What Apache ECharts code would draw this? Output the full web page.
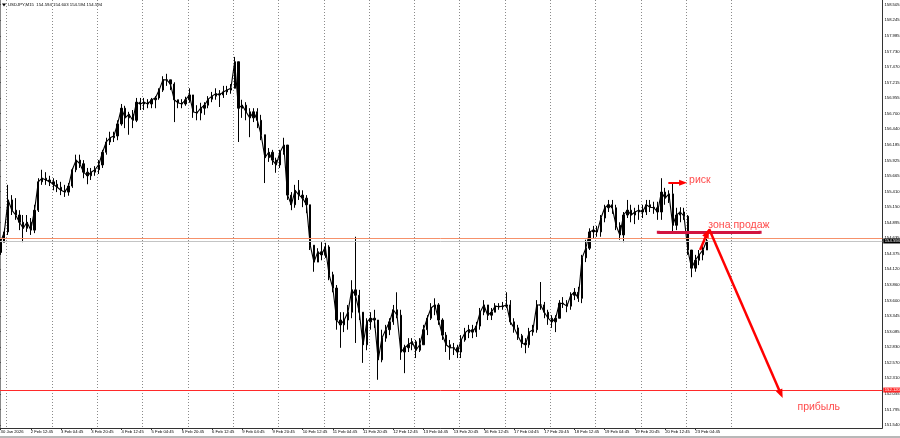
<!DOCTYPE html>
<html>
<head>
<meta charset="utf-8">
<title>USDJPY,M15</title>
<script src="https://cdn.jsdelivr.net/npm/echarts@6/dist/echarts.min.js"></script>
<style>
  html, body { margin: 0; padding: 0; background: #fff; }
  #chart { width: 900px; height: 438px; }
</style>
</head>
<body>
<div id="chart"></div>
<script>
// USDJPY M15, shown here as 2-hour bars, 30 Jan 20:45 .. 23 Feb
const barCount = 234 // includes empty space on the right (chart shift)
const categories = Array.from({ length: barCount }, (_, i) => String(i))

// trading days, one dotted separator at the start of each
const tradingDays = [
  '30 Jan', '2 Feb', '3 Feb', '4 Feb', '5 Feb', '6 Feb', '9 Feb', '10 Feb', '11 Feb',
  '12 Feb', '13 Feb', '16 Feb', '17 Feb', '18 Feb', '19 Feb', '20 Feb', '23 Feb', '24 Feb',
]

const timeLabels = [
  '30 Jan 2026', '2 Feb 12:45', '3 Feb 04:45', '3 Feb 20:45', '4 Feb 12:45', '5 Feb 04:45',
  '5 Feb 20:45', '6 Feb 12:45', '9 Feb 04:45', '9 Feb 20:45', '10 Feb 12:45', '11 Feb 04:45',
  '11 Feb 20:45', '12 Feb 12:45', '13 Feb 04:45', '13 Feb 20:45', '16 Feb 12:45', '17 Feb 04:45',
  '17 Feb 20:45', '18 Feb 12:45', '19 Feb 04:45', '19 Feb 20:45', '20 Feb 12:45', '23 Feb 04:45',
]

const priceLabels = [
  '151.540', '151.795', '152.055', '152.310', '152.570', '152.830', '153.085', '153.345',
  '153.600', '153.860', '154.120', '154.375', '154.635', '154.895', '155.150', '155.410',
  '155.665', '155.925', '156.185', '156.440', '156.700', '156.955', '157.215', '157.470',
  '157.730', '157.985', '158.245', '158.505',
]

const firstOpen = 154.4
const closes = [
  154.57, 154.74, 155.27, 155.10, 155.02, 154.90, 154.80, 154.90, 154.77, 155.10,
  155.57, 155.63, 155.60, 155.57, 155.53, 155.48, 155.43, 155.40, 155.50, 155.77,
  155.93, 155.87, 155.73, 155.67, 155.73, 155.77, 155.85, 156.06, 156.23, 156.30,
  156.33, 156.53, 156.79, 156.63, 156.69, 156.59, 156.89, 156.86, 156.89, 156.86,
  156.93, 156.96, 157.09, 157.26, 157.26, 157.19, 156.93, 156.88, 156.86, 156.93,
  157.01, 156.73, 156.71, 156.79, 156.84, 156.94, 156.99, 157.03, 157.01, 157.06,
  157.09, 157.12, 157.56, 156.79, 156.84, 156.73, 156.63, 156.73, 156.59, 156.35,
  155.97, 156.06, 155.93, 155.85, 156.06, 156.18, 155.35, 155.19, 155.43, 155.35,
  155.30, 155.19, 154.52, 154.24, 154.41, 154.36, 154.49, 154.03, 153.81, 153.28,
  153.20, 153.28, 153.41, 153.78, 153.69, 153.41, 152.87, 153.25, 153.31, 153.28,
  152.62, 152.98, 153.12, 153.25, 153.45, 153.36, 152.75, 152.82, 152.87, 152.92,
  152.78, 152.87, 153.12, 153.31, 153.48, 153.53, 153.28, 153.03, 152.87, 152.82,
  152.82, 152.75, 152.95, 153.07, 153.12, 153.08, 153.18, 153.41, 153.53, 153.36,
  153.41, 153.51, 153.50, 153.51, 153.53, 153.25, 153.15, 153.02, 152.90, 152.87,
  153.08, 153.12, 153.53, 153.53, 153.41, 153.31, 153.25, 153.31, 153.56, 153.55,
  153.51, 153.69, 153.74, 153.64, 154.31, 154.47, 154.74, 154.77, 154.74, 154.97,
  155.14, 155.19, 155.14, 154.85, 154.69, 155.02, 155.10, 155.02, 155.07, 155.10,
  155.07, 155.19, 155.15, 155.14, 155.07, 155.40, 155.30, 155.37, 154.85, 155.02,
  155.07, 155.00, 154.44, 154.14, 154.27, 154.36, 154.44, 154.594,
]
const highs = [
  154.64, 154.80, 155.52, 155.35, 155.30, 155.10, 155.02, 155.02, 154.97, 155.19,
  155.63, 155.77, 155.73, 155.67, 155.63, 155.60, 155.57, 155.52, 155.55, 155.80,
  156.02, 156.02, 155.93, 155.80, 155.80, 155.83, 155.93, 156.10, 156.30, 156.40,
  156.40, 156.59, 156.86, 156.83, 156.73, 156.76, 156.96, 156.96, 156.96, 156.94,
  156.96, 156.99, 157.12, 157.32, 157.36, 157.26, 157.22, 156.93, 156.94, 156.98,
  157.12, 156.93, 156.84, 156.88, 156.89, 156.99, 157.06, 157.12, 157.09, 157.16,
  157.16, 157.19, 157.64, 157.56, 156.93, 156.89, 156.79, 156.79, 156.79, 156.68,
  156.30, 156.13, 156.10, 155.97, 156.10, 156.30, 156.18, 155.40, 155.52, 155.60,
  155.43, 155.35, 155.19, 154.47, 154.47, 154.57, 154.56, 154.52, 154.08, 153.86,
  153.41, 153.41, 153.53, 153.94, 154.66, 153.78, 153.36, 153.31, 153.41, 153.45,
  153.28, 153.12, 153.20, 153.31, 153.53, 153.74, 153.45, 152.87, 152.98, 152.98,
  152.95, 152.98, 153.20, 153.36, 153.56, 153.64, 153.56, 153.31, 153.08, 152.95,
  152.90, 152.87, 153.03, 153.15, 153.20, 153.20, 153.25, 153.48, 153.61, 153.53,
  153.48, 153.56, 153.56, 153.58, 153.74, 153.61, 153.31, 153.20, 153.05, 152.98,
  153.15, 153.20, 153.61, 153.91, 153.58, 153.45, 153.36, 153.36, 153.61, 153.66,
  153.61, 153.74, 153.81, 153.83, 154.36, 154.61, 154.80, 154.84, 154.84, 155.02,
  155.19, 155.27, 155.27, 155.19, 154.90, 155.07, 155.27, 155.19, 155.14, 155.19,
  155.19, 155.27, 155.27, 155.24, 155.24, 155.63, 155.47, 155.43, 155.55, 155.14,
  155.15, 155.14, 155.02, 154.44, 154.36, 154.44, 154.52, 154.66,
]
const lows = [
  154.36, 154.57, 154.69, 155.02, 154.94, 154.77, 154.57, 154.74, 154.69, 154.72,
  155.07, 155.52, 155.52, 155.50, 155.43, 155.40, 155.35, 155.32, 155.34, 155.47,
  155.73, 155.80, 155.63, 155.53, 155.60, 155.67, 155.70, 155.80, 156.02, 156.18,
  156.23, 156.26, 156.50, 156.46, 156.35, 156.46, 156.56, 156.76, 156.76, 156.79,
  156.79, 156.79, 156.93, 157.06, 157.16, 157.09, 156.56, 156.79, 156.79, 156.83,
  156.88, 156.63, 156.59, 156.59, 156.68, 156.79, 156.89, 156.93, 156.81, 156.96,
  157.01, 157.03, 157.12, 156.23, 156.63, 156.59, 156.31, 156.56, 156.46, 156.26,
  155.55, 155.90, 155.85, 155.72, 155.80, 156.02, 155.27, 155.10, 155.14, 155.27,
  155.15, 155.05, 154.44, 154.08, 154.24, 154.27, 154.31, 153.94, 153.74, 153.12,
  152.82, 153.08, 153.12, 153.31, 152.90, 153.28, 152.57, 152.78, 153.12, 153.15,
  152.29, 152.58, 152.92, 153.03, 153.20, 153.31, 152.62, 152.40, 152.75, 152.78,
  152.65, 152.75, 152.87, 153.03, 153.28, 153.36, 153.20, 152.95, 152.75, 152.62,
  152.70, 152.65, 152.65, 152.92, 152.98, 152.98, 153.00, 153.12, 153.36, 153.28,
  153.28, 153.41, 153.45, 153.45, 153.48, 153.20, 153.07, 152.95, 152.82, 152.73,
  152.82, 153.02, 153.07, 153.45, 153.31, 153.20, 153.15, 153.08, 153.31, 153.48,
  153.41, 153.45, 153.61, 153.58, 153.56, 154.24, 154.44, 154.64, 154.66, 154.66,
  154.90, 155.07, 155.04, 154.77, 154.61, 154.57, 154.97, 154.90, 154.87, 154.94,
  154.97, 155.02, 155.07, 155.04, 154.94, 154.94, 155.19, 155.22, 154.74, 154.77,
  154.90, 154.94, 154.36, 153.99, 154.08, 154.19, 154.27, 154.47,
]

// horizontal levels
const bidPrice = 154.594
const userLine = 154.628
const targetLine = 152.12

// drawings, x in trading hours from 2 Feb 00:00, y in price
const riskArrow = [[350.4, 155.556], [358.2, 155.556]]
const sellZone = [[345.1, 154.734], [399.0, 154.734]]
const entryArrow = [[367.2, 154.44], [371.0, 154.722]]
const profitArrow = [[372.0, 154.789], [410.0, 152.056]]
const notes = [
  { name: 'риск', value: [361.4, 155.6] },
  { name: 'зона продаж', value: [371.6, 154.855] },
  { name: 'прибыль', value: [418.8, 151.84] },
]

const FONT = 'Liberation Sans'
const priceMin = 151.491
const priceMax = 158.583

const candles = closes.map((c, i) => {
  const o = i === 0 ? firstOpen : closes[i - 1]
  return [o, c, Math.min(lows[i], o, c), Math.max(highs[i], o, c)]
})

const showTime = (i) => i % 8 === 0 && i / 8 < timeLabels.length

const chart = echarts.init(document.getElementById('chart'), null, { renderer: 'canvas' })

chart.setOption({
  animation: false,
  backgroundColor: '#fff',
  textStyle: { fontFamily: FONT },
  title: {
    text: 'USDJPY,M15  154.594 154.603 154.594 154.594',
    left: 8,
    top: 3,
    padding: 0,
    textStyle: { fontSize: 4.3, fontWeight: 'normal', color: '#000', fontFamily: FONT },
  },
  graphic: [
    { type: 'polygon', shape: { points: [[2, 3.5], [6, 3.5], [4, 6.5]] }, style: { fill: '#000' } },
    { type: 'line', shape: { x1: 0.5, y1: 0, x2: 0.5, y2: 428 }, style: { stroke: '#888', lineWidth: 1 } },
    { type: 'rect', shape: { x: 0, y: 436, width: 900, height: 2 }, style: { fill: '#b8b8b8' } },
  ],
  grid: [
    { left: -1.33, right: 17.73, top: 0, bottom: 10, outerBoundsMode: 'none' },   // bars
    { left: -1.33, right: 17.73, top: 4.7, bottom: 13, outerBoundsMode: 'none' }, // price scale labels
    { left: -38.6, right: 168.5, top: 0, bottom: 10, outerBoundsMode: 'none' },   // day separators
    { left: -38.6, right: 17.73, top: 0, bottom: 10, outerBoundsMode: 'none' },   // drawings
  ],
  xAxis: [
    {
      gridIndex: 0,
      type: 'category',
      data: categories,
      boundaryGap: true,
      axisLine: { lineStyle: { color: '#333', width: 1 } },
      axisTick: { show: true, interval: showTime, alignWithLabel: true, length: 2, lineStyle: { color: '#333' } },
      axisLabel: {
        interval: showTime,
        formatter: (v, i) => timeLabels[i / 8],
        align: 'left',
        fontSize: 4.2,
        margin: 1.5,
        color: '#000',
        fontFamily: FONT,
      },
      splitLine: { show: false },
    },
    { gridIndex: 1, type: 'value', min: 0, max: 1, show: false },
    {
      gridIndex: 2,
      type: 'category',
      data: tradingDays,
      boundaryGap: false,
      axisLine: { show: false },
      axisTick: { show: false },
      axisLabel: { show: false },
      splitLine: {
        show: true,
        interval: 0,
        lineStyle: { color: '#8a8a8a', type: [1, 2], width: 1 },
      },
    },
    { gridIndex: 3, type: 'value', min: -24, max: 463.7, show: false },
  ],
  yAxis: [
    {
      gridIndex: 0,
      type: 'value',
      position: 'right',
      min: priceMin,
      max: priceMax,
      axisLine: { show: true, lineStyle: { color: '#333', width: 1 } },
      axisTick: { show: false },
      axisLabel: { show: false },
      splitLine: { show: false },
    },
    {
      gridIndex: 1,
      type: 'value',
      position: 'right',
      min: 0,
      max: priceLabels.length - 1,
      interval: 1,
      axisLine: { show: false },
      axisTick: { show: true, length: 2, lineStyle: { color: '#333' } },
      axisLabel: {
        formatter: (v) => priceLabels[Math.round(v)] || '',
        fontSize: 4.2,
        margin: 2.2,
        color: '#000',
        fontFamily: FONT,
      },
      splitLine: { show: false },
    },
    { gridIndex: 2, type: 'value', show: false, min: 0, max: 1 },
    { gridIndex: 3, type: 'value', show: false, min: priceMin, max: priceMax },
  ],
  series: [
    {
      name: 'USDJPY',
      type: 'candlestick',
      xAxisIndex: 0,
      yAxisIndex: 0,
      data: candles,
      barWidth: 1.8,
      itemStyle: { color: '#000', color0: '#000', borderColor: '#000', borderColor0: '#000', borderWidth: 1 },
      markLine: {
        silent: true,
        symbol: ['none', 'none'],
        animation: false,
        data: [
          {
            yAxis: bidPrice,
            lineStyle: { color: '#c4c4c4', width: 1, type: 'solid' },
            label: {
              show: true,
              position: 'end',
              distance: 1,
              formatter: bidPrice.toFixed(3),
              backgroundColor: '#000',
              color: '#fff',
              fontSize: 4.2,
              padding: [0.6, 2, 0.4, 1.5],
              fontFamily: FONT,
            },
          },
          {
            yAxis: userLine,
            lineStyle: { color: '#f6916b', width: 1, type: 'solid' },
            label: { show: false },
          },
          {
            yAxis: targetLine,
            lineStyle: { color: '#ff2a2a', width: 1, type: 'solid' },
            label: {
              show: true,
              position: 'end',
              distance: 1,
              formatter: '152.120',
              backgroundColor: '#ff2a2a',
              color: '#fff',
              fontSize: 4.2,
              padding: [0.6, 2, 0.4, 1.5],
              fontFamily: FONT,
            },
          },
        ],
      },
    },
    {
      name: 'close',
      type: 'line',
      xAxisIndex: 0,
      yAxisIndex: 0,
      data: closes,
      symbol: 'none',
      lineStyle: { color: '#000', width: 1.1 },
      z: 3,
    },
    {
      name: 'notes',
      type: 'scatter',
      xAxisIndex: 3,
      yAxisIndex: 3,
      data: notes,
      symbolSize: 0.1,
      itemStyle: { color: 'transparent' },
      label: {
        show: true,
        position: [0, 0],
        align: 'left',
        verticalAlign: 'middle',
        formatter: '{b}',
        color: '#ff1a1a',
        fontSize: 10.5,
        fontFamily: FONT,
      },
      markLine: {
        silent: true,
        animation: false,
        symbol: ['none', 'triangle'],
        symbolSize: [7, 9],
        label: { show: false },
        data: [
          [
            { coord: riskArrow[0], lineStyle: { color: '#ff0000', width: 2, type: 'solid' } },
            { coord: riskArrow[1], symbolSize: [6, 8] },
          ],
          [
            { coord: sellZone[0], symbol: 'rect', symbolSize: 3, lineStyle: { color: '#d2143f', width: 3, type: 'solid' } },
            { coord: sellZone[1], symbol: 'rect', symbolSize: 3 },
          ],
          [
            { coord: entryArrow[0], lineStyle: { color: '#ff0000', width: 2.5, type: 'solid' } },
            { coord: entryArrow[1] },
          ],
          [
            { coord: profitArrow[0], lineStyle: { color: '#ff0000', width: 2.5, type: 'solid' } },
            { coord: profitArrow[1] },
          ],
        ],
      },
      z: 5,
    },
  ],
})
</script>
</body>
</html>
